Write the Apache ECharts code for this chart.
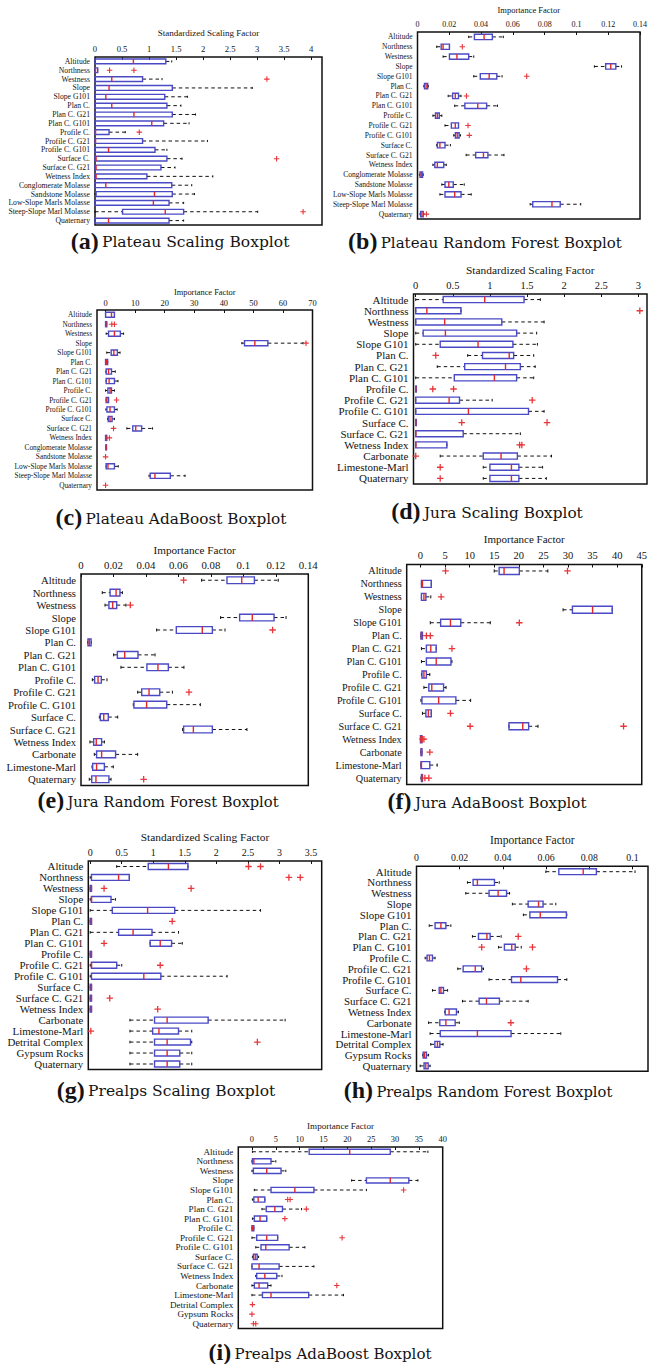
<!DOCTYPE html>
<html>
<head>
<meta charset="utf-8">
<script src="https://cdn.jsdelivr.net/npm/echarts@6/dist/echarts.min.js"></script>
<style>
  html, body { margin: 0; padding: 0; background: #fff; }
  #chart { width: 650px; height: 1364px; }
</style>
</head>
<body>
<div id="chart"></div>
<script>
// ---- factor names (one list per study area) ----
const plateauFactors = ['Altitude', 'Northness', 'Westness', 'Slope', 'Slope G101', 'Plan C.', 'Plan C. G21',
  'Plan C. G101', 'Profile C.', 'Profile C. G21', 'Profile C. G101', 'Surface C.', 'Surface C. G21',
  'Wetness Index', 'Conglomerate Molasse', 'Sandstone Molasse', 'Low-Slope Marls Molasse',
  'Steep-Slope Marl Molasse', 'Quaternary'];
const juraFactors = ['Altitude', 'Northness', 'Westness', 'Slope', 'Slope G101', 'Plan C.', 'Plan C. G21',
  'Plan C. G101', 'Profile C.', 'Profile C. G21', 'Profile C. G101', 'Surface C.', 'Surface C. G21',
  'Wetness Index', 'Carbonate', 'Limestone-Marl', 'Quaternary'];
const prealpsFactors = ['Altitude', 'Northness', 'Westness', 'Slope', 'Slope G101', 'Plan C.', 'Plan C. G21',
  'Plan C. G101', 'Profile C.', 'Profile C. G21', 'Profile C. G101', 'Surface C.', 'Surface C. G21',
  'Wetness Index', 'Carbonate', 'Limestone-Marl', 'Detrital Complex', 'Gypsum Rocks', 'Quaternary'];

// ---- box statistics per factor: [lower whisker, Q1, median, Q3, upper whisker] (null = no box) ----
const plateauScalingStats = [
  [0, 0, 0.71, 1.31, 1.42], [0, 0, 0.01, 0.05, 0.05], [0, 0, 0.31, 0.88, 1.24], [0, 0, 0.26, 1.43, 2.91],
  [0, 0, 0.20, 1.29, 1.71], [0, 0, 0.31, 1.33, 1.59], [0, 0, 0.72, 1.43, 1.86], [0, 0, 1.05, 1.27, 1.74],
  [0, 0, 0.01, 0.26, 0.56], [0, 0, 0.01, 0.88, 2.08], [0, 0, 0.25, 1.11, 1.33], [0, 0, 0.02, 1.33, 1.61],
  [0, 0, 0.02, 1.22, 1.48], [0, 0, 0.02, 0.96, 2.18], [0, 0, 0.20, 1.42, 1.79], [0, 0.02, 1.10, 1.43, 1.84],
  [0, 0, 1.08, 1.37, 1.64], [0, 0.51, 1.30, 1.64, 3.01], [0, 0, 0.25, 1.37, 1.64]];
const plateauScalingOutliers = [['Northness', 0.27], ['Northness', 0.72], ['Westness', 3.18], ['Profile C.', 0.82],
  ['Surface C.', 3.36], ['Steep-Slope Marl Molasse', 3.85]];

const plateauForestStats = [
  [0.0322, 0.0358, 0.0419, 0.0471, 0.0540], [0.0121, 0.0149, 0.0161, 0.0201, 0.0201],
  [0.0161, 0.0201, 0.0248, 0.0322, 0.0354], [0.1113, 0.1184, 0.1216, 0.1248, 0.1284],
  [0.0354, 0.0395, 0.0451, 0.0499, 0.0532], [0.0040, 0.0044, 0.0054, 0.0064, 0.0068],
  [0.0193, 0.0221, 0.0238, 0.0258, 0.0274], [0.0234, 0.0298, 0.0379, 0.0435, 0.0503],
  [0.0097, 0.0113, 0.0125, 0.0137, 0.0153], [0.0173, 0.0213, 0.0238, 0.0258, 0.0258],
  [0.0228, 0.0238, 0.0250, 0.0262, 0.0270], [0.0121, 0.0125, 0.0141, 0.0173, 0.0207],
  [0.0306, 0.0366, 0.0415, 0.0443, 0.0544], [0.0097, 0.0109, 0.0125, 0.0165, 0.0181],
  [0.0012, 0.0016, 0.0024, 0.0032, 0.0036], [0.0153, 0.0173, 0.0197, 0.0225, 0.0294],
  [0.0141, 0.0173, 0.0234, 0.0274, 0.0338], [0.0709, 0.0725, 0.0846, 0.0898, 0.1027],
  [0.0016, 0.0020, 0.0028, 0.0036, 0.0040]];
const plateauForestOutliers = [['Northness', 0.0282], ['Slope G101', 0.0687], ['Plan C. G21', 0.0308],
  ['Profile C. G21', 0.0318], ['Profile C. G101', 0.0326], ['Quaternary', 0.0056]];

const plateauAdaStats = [
  [0, 0, 2.0, 3.0, 3.0], [0, 0, 0.1, 0.4, 0.4], [0.2, 1.0, 3.0, 5.0, 6.1], [46.1, 47.0, 50.5, 54.9, 66.8],
  [0.4, 1.9, 2.8, 4.0, 4.9], [0, 0, 0.3, 0.7, 0.7], [0.1, 0.2, 1.0, 2.0, 3.3], [0.2, 0.2, 1.2, 3.0, 4.2],
  [0, 0.8, 1.5, 2.0, 3.0], [0.2, 0.2, 0.45, 1.0, 1.0], [0.1, 0.45, 1.5, 3.0, 3.9], [0.7, 0.9, 1.5, 2.2, 3.0],
  [7.2, 9.2, 10.2, 12.2, 15.9], [0, 0, 0.1, 0.4, 0.4], [0.1, 0.1, 0.15, 0.2, 0.2], null,
  [0.2, 0.2, 0.8, 3.0, 4.3], [14.7, 15.1, 16.7, 21.9, 26.9], null];
const plateauAdaOutliers = [['Northness', 2.1], ['Northness', 3.0], ['Slope', 67.8], ['Profile C. G21', 3.7],
  ['Surface C. G21', 2.7], ['Wetness Index', 1.3], ['Sandstone Molasse', 0], ['Quaternary', 0]];

const juraScalingStats = [
  [0, 0.37, 0.93, 1.46, 1.68], [0, 0, 0.15, 0.61, 0.61], [0, 0, 0.39, 1.16, 1.73], [0, 0.10, 0.40, 1.36, 1.63],
  [0, 0.33, 0.84, 1.31, 1.64], [0.70, 0.90, 1.26, 1.32, 1.59], [0.29, 0.66, 1.21, 1.41, 1.61],
  [0, 0.52, 1.06, 1.36, 1.59], [0, 0, 0, 0, 0], [0, 0, 0.45, 0.59, 1.03], [0, 0, 0.71, 1.52, 1.73],
  [0, 0, 0, 0, 0], [0, 0, 0, 0.64, 1.41], [0, 0, 0, 0.42, 0.42], [0.33, 0.91, 1.15, 1.37, 1.83],
  [0.91, 1.0, 1.29, 1.39, 1.71], [0.91, 1.0, 1.29, 1.39, 1.76]];
const juraScalingOutliers = [['Northness', 3.02], ['Plan C.', 0.27], ['Profile C.', 0.23], ['Profile C.', 0.51],
  ['Profile C. G21', 1.57], ['Surface C.', 0.62], ['Surface C.', 1.77], ['Wetness Index', 1.40],
  ['Wetness Index', 1.43], ['Carbonate', 0], ['Limestone-Marl', 0.33], ['Quaternary', 0.33]];

const juraForestStats = [
  [0.0743, 0.0899, 0.0990, 0.1068, 0.1215], [0.0131, 0.0179, 0.0216, 0.0240, 0.0255],
  [0.0148, 0.0172, 0.0195, 0.0220, 0.0277], [0.0860, 0.0977, 0.1055, 0.1189, 0.1263],
  [0.0466, 0.0587, 0.0747, 0.0809, 0.0887], [0.0041, 0.0043, 0.0051, 0.0062, 0.0064],
  [0.0201, 0.0224, 0.0269, 0.0351, 0.0456], [0.0246, 0.0406, 0.0474, 0.0538, 0.0634],
  [0.0070, 0.0084, 0.0105, 0.0125, 0.0160], [0.0349, 0.0374, 0.0419, 0.0485, 0.0563],
  [0.0322, 0.0326, 0.0404, 0.0528, 0.0735], [0.0113, 0.0119, 0.0140, 0.0168, 0.0226],
  [0.0626, 0.0632, 0.0692, 0.0809, 0.1022], [0.0055, 0.0078, 0.0094, 0.0127, 0.0144],
  [0.0082, 0.0096, 0.0127, 0.0213, 0.0349], [0.0068, 0.0072, 0.0096, 0.0144, 0.0199],
  [0.0051, 0.0066, 0.0092, 0.0172, 0.0185]];
const juraForestOutliers = [['Altitude', 0.0632], ['Westness', 0.0304], ['Slope G101', 0.1180],
  ['Profile C. G21', 0.0665], ['Quaternary', 0.0386]];

const juraAdaStats = [
  [15.0, 16.0, 17.0, 20.1, 25.9], [0.2, 0.2, 0.4, 2.2, 2.2], [0.2, 0.2, 0.7, 1.1, 2.1], [29.0, 30.9, 35.0, 39.0, 39.0],
  [2.0, 4.1, 6.1, 8.2, 14.2], [0.1, 0.1, 0.2, 0.4, 0.4], [0.2, 1.2, 2.1, 3.2, 3.2], [0.2, 1.2, 3.2, 6.2, 6.4],
  [0.2, 0.3, 0.7, 1.2, 1.9], [0.7, 1.7, 2.3, 4.7, 5.2], [0.1, 0.3, 3.7, 7.2, 10.2], [0.4, 1.1, 1.6, 2.2, 2.2],
  [18.0, 18.0, 20.8, 22.0, 23.9], [0, 0, 0.1, 0.3, 0.3], [0.1, 0.1, 0.2, 0.3, 0.3], [0.1, 0.1, 0.2, 1.9, 3.4],
  [0.1, 0.2, 0.3, 0.4, 0.4]];
const juraAdaOutliers = [['Altitude', 5.1], ['Altitude', 29.9], ['Westness', 4.2], ['Slope G101', 20.1],
  ['Plan C.', 1.2], ['Plan C.', 2.0], ['Plan C. G21', 6.4], ['Surface C.', 6.1], ['Surface C. G21', 10.1],
  ['Surface C. G21', 41.3], ['Wetness Index', 0.4], ['Wetness Index', 0.7], ['Carbonate', 1.9],
  ['Quaternary', 0.9], ['Quaternary', 1.7]];

const prealpsScalingStats = [
  [0.42, 0.92, 1.24, 1.55, 1.55], [0, 0.02, 0.45, 0.62, 0.62], [0, 0, 0.02, 0.02, 0.02], [0, 0.02, 0.02, 0.33, 0.40],
  [0, 0.35, 0.91, 1.34, 2.70], [0, 0, 0.02, 0.02, 0.02], [0, 0.45, 0.68, 0.98, 1.40], [0.95, 0.95, 1.11, 1.29, 1.46],
  [0, 0, 0.02, 0.02, 0.02], [0, 0.02, 0.02, 0.42, 0.50], [0, 0.02, 0.85, 1.12, 2.17], [0, 0, 0.02, 0.02, 0.02],
  [0, 0, 0.02, 0.02, 0.02], [0, 0, 0.02, 0.02, 0.02], [0.63, 1.02, 1.22, 1.87, 3.09], [0.63, 0.99, 1.09, 1.40, 1.61],
  [0.63, 1.02, 1.22, 1.59, 1.61], [0.63, 1.02, 1.22, 1.42, 1.61], [0.63, 1.02, 1.22, 1.42, 1.61]];
const prealpsScalingOutliers = [['Altitude', 2.51], ['Altitude', 2.70], ['Northness', 3.15], ['Northness', 3.33],
  ['Westness', 0.22], ['Westness', 1.60], ['Plan C.', 1.30], ['Plan C. G101', 0.22], ['Profile C. G21', 1.11],
  ['Surface C. G21', 0.31], ['Wetness Index', 1.07], ['Limestone-Marl', 0.01], ['Detrital Complex', 2.65]];

const prealpsForestStats = [
  [0.0599, 0.0659, 0.0772, 0.0833, 0.1012], [0.0236, 0.0262, 0.0282, 0.0361, 0.0383],
  [0.0228, 0.0336, 0.0378, 0.0417, 0.0431], [0.0444, 0.0517, 0.0565, 0.0586, 0.0645],
  [0.0495, 0.0525, 0.0573, 0.0694, 0.0696], [0.0059, 0.0086, 0.0113, 0.0136, 0.0159],
  [0.0259, 0.0287, 0.0326, 0.0341, 0.0392], [0.0380, 0.0407, 0.0441, 0.0457, 0.0485],
  [0.0040, 0.0049, 0.0060, 0.0074, 0.0086], [0.0191, 0.0216, 0.0272, 0.0302, 0.0310],
  [0.0336, 0.0440, 0.0483, 0.0653, 0.0696], [0.0074, 0.0105, 0.0113, 0.0125, 0.0144],
  [0.0213, 0.0290, 0.0324, 0.0384, 0.0517], [0.0131, 0.0133, 0.0151, 0.0185, 0.0194],
  [0.0056, 0.0108, 0.0136, 0.0179, 0.0198], [0.0063, 0.0110, 0.0282, 0.0438, 0.0668],
  [0.0066, 0.0085, 0.0097, 0.0108, 0.0123], [0.0029, 0.0031, 0.0037, 0.0046, 0.0056],
  [0.0017, 0.0035, 0.0043, 0.0054, 0.0063]];
const prealpsForestOutliers = [['Plan C. G21', 0.0471], ['Plan C. G101', 0.0302], ['Plan C. G101', 0.0537],
  ['Profile C. G21', 0.0509], ['Carbonate', 0.0437]];

const prealpsAdaStats = [
  [0.1, 12.0, 20.5, 29.0, 36.9], [0, 0.1, 0.4, 4.0, 5.0], [0, 0.3, 3.1, 6.1, 7.1], [20.9, 24.0, 29.0, 32.9, 34.8],
  [0.5, 4.0, 9.0, 13.0, 24.0], [0.1, 0.4, 1.3, 2.7, 2.7], [2.1, 3.0, 4.8, 6.4, 10.4], [0.1, 0.5, 1.7, 3.1, 3.1],
  [0, 0, 0.15, 0.4, 0.4], [0, 1.0, 3.1, 5.4, 5.4], [0.8, 1.9, 2.9, 7.8, 11.1], [0.1, 0.3, 0.7, 1.1, 1.4],
  [0, 0, 1.5, 5.7, 13.0], [0.8, 1.0, 2.7, 5.2, 6.3], [0, 0.5, 1.5, 3.3, 4.0], [0, 2.2, 4.0, 11.9, 19.2],
  null, null, null];
const prealpsAdaOutliers = [['Slope G101', 31.8], ['Plan C.', 7.5], ['Plan C.', 8.0], ['Plan C. G21', 11.4],
  ['Plan C. G101', 6.9], ['Profile C. G21', 18.9], ['Carbonate', 17.8], ['Detrital Complex', 0.1],
  ['Gypsum Rocks', 0], ['Quaternary', 0.3], ['Quaternary', 0.8]];

// ---- tick values on the importance / scaling axes ----
const ticksScaling4 = [0, 0.5, 1, 1.5, 2, 2.5, 3, 3.5, 4];
const ticksScaling3 = [0, 0.5, 1, 1.5, 2, 2.5, 3];
const ticksScaling35 = [0, 0.5, 1, 1.5, 2, 2.5, 3, 3.5];
const ticksForest014 = [0, 0.02, 0.04, 0.06, 0.08, 0.1, 0.12, 0.14];
const ticksForest010 = [0, 0.02, 0.04, 0.06, 0.08, 0.1];
const ticksAda70 = [0, 10, 20, 30, 40, 50, 60, 70];
const ticksAda45 = [0, 5, 10, 15, 20, 25, 30, 35, 40, 45];
const ticksAda40 = [0, 5, 10, 15, 20, 25, 30, 35, 40];

// ---- panel descriptions (data references + layout) ----
const SCALING = 'Standardized Scaling Factor';
const IMPORTANCE = 'Importance Factor';
const panels = [
  { tag: '(a)', title: 'Plateau Scaling Boxplot', cats: plateauFactors, stats: plateauScalingStats,
    outliers: plateauScalingOutliers, ticks: ticksScaling4, axisName: SCALING,
    box: [95, 57, 227, 168], min: 0, max: 4.2, catFont: 7.7, tickFont: 8.6, nameFont: 9, nameGap: 20,
    tickMargin: 4, titlePos: [180, 241], titleFont: 15.5, plus: 5.5 },
  { tag: '(b)', title: 'Plateau Random Forest Boxplot', cats: plateauFactors, stats: plateauForestStats,
    outliers: plateauForestOutliers, ticks: ticksForest014, axisName: IMPORTANCE,
    box: [417.5, 32, 231.5, 187], min: 0, max: 0.14, catFont: 7.5, tickFont: 8, nameFont: 8.5, nameGap: 18,
    tickMargin: 4, titlePos: [485, 241], titleFont: 15, plus: 5.5 },
  { tag: '(c)', title: 'Plateau AdaBoost Boxplot', cats: plateauFactors, stats: plateauAdaStats,
    outliers: plateauAdaOutliers, ticks: ticksAda70, axisName: IMPORTANCE,
    box: [97, 310, 215.5, 180], min: -2.9, max: 70, catFont: 7.3, tickFont: 8.4, nameFont: 8.4, nameGap: 14,
    tickMargin: 2.5, titlePos: [171, 517], titleFont: 15.3, plus: 5.5 },
  { tag: '(d)', title: 'Jura Scaling Boxplot', cats: juraFactors, stats: juraScalingStats,
    outliers: juraScalingOutliers, ticks: ticksScaling3, axisName: SCALING,
    box: [413.5, 294, 233.5, 190], min: -0.03, max: 3.117, catFont: 11, tickFont: 10.5, nameFont: 11.4, nameGap: 19,
    tickMargin: 3.5, titlePos: [487, 511], titleFont: 15.3, plus: 6.5 },
  { tag: '(e)', title: 'Jura Random Forest Boxplot', cats: juraFactors, stats: juraForestStats,
    outliers: juraForestOutliers, ticks: ticksForest014, axisName: IMPORTANCE,
    box: [81, 574, 227.3, 211.5], min: 0, max: 0.14, catFont: 10.7, tickFont: 10.8, nameFont: 11.2, nameGap: 19,
    tickMargin: 3.5, titlePos: [158, 800], titleFont: 14.7, plus: 6.5 },
  { tag: '(f)', title: 'Jura AdaBoost Boxplot', cats: juraFactors, stats: juraAdaStats,
    outliers: juraAdaOutliers, ticks: ticksAda45, axisName: IMPORTANCE,
    box: [406.7, 564.5, 238.3, 220], min: -2.8, max: 45, catFont: 10.2, tickFont: 10.5, nameFont: 11, nameGap: 20,
    tickMargin: 3.5, titlePos: [487, 801], titleFont: 15, plus: 6.5 },
  { tag: '(g)', title: 'Prealps Scaling Boxplot', cats: prealpsFactors, stats: prealpsScalingStats,
    outliers: prealpsScalingOutliers, ticks: ticksScaling35, axisName: SCALING,
    box: [88.3, 861, 233.4, 208.5], min: -0.03, max: 3.67, catFont: 10.9, tickFont: 10, nameFont: 11.4, nameGap: 19,
    tickMargin: 3.5, titlePos: [166, 1090], titleFont: 15.5, plus: 6.5 },
  { tag: '(h)', title: 'Prealps Random Forest Boxplot', cats: prealpsFactors, stats: prealpsForestStats,
    outliers: prealpsForestOutliers, ticks: ticksForest010, axisName: IMPORTANCE,
    box: [416.5, 866.3, 231.5, 205], min: 0, max: 0.1072, catFont: 10.9, tickFont: 9.8, nameFont: 11.5, nameGap: 20,
    tickMargin: 3.5, titlePos: [478, 1090], titleFont: 14.7, plus: 6.5 },
  { tag: '(i)', title: 'Prealps AdaBoost Boxplot', cats: prealpsFactors, stats: prealpsAdaStats,
    outliers: prealpsAdaOutliers, ticks: ticksAda40, axisName: IMPORTANCE,
    box: [238.3, 1147, 204.4, 181.5], min: -2.86, max: 40, catFont: 9.1, tickFont: 8.4, nameFont: 9.1, nameGap: 17,
    tickMargin: 4, titlePos: [320, 1352], titleFont: 15, plus: 5.5 }
];

const SERIF = '"Liberation Serif", "DejaVu Serif", serif';
const INK = '#141414';
const BOX_BLUE = '#4a4ac6';
const MEDIAN_RED = '#e5262a';
const OUTLIER_RED = '#e8363a';
const PLUS = 'path://M4,0H6V4H10V6H6V10H4V6H0V4H4Z';

// draws one horizontal box: dashed whiskers with caps, box outline, red median
function drawBox(params, api) {
  const cat = api.value(0);
  const xs = [1, 2, 3, 4, 5].map(k => api.coord([api.value(k), cat])[0]);
  const yc = api.coord([api.value(3), cat])[1];
  const band = api.size([0, 1])[1];
  const hb = band * 0.27;
  const hc = band * 0.12;
  const [xl, x1, xm, x3, xh] = xs;
  const dash = { stroke: '#111', lineWidth: 1, lineDash: [3.5, 3] };
  const solid = { stroke: '#111', lineWidth: 1 };
  return {
    type: 'group',
    children: [
      { type: 'line', shape: { x1: xl, y1: yc, x2: x1, y2: yc }, style: dash },
      { type: 'line', shape: { x1: x3, y1: yc, x2: xh, y2: yc }, style: dash },
      { type: 'line', shape: { x1: xl, y1: yc - hc, x2: xl, y2: yc + hc }, style: solid },
      { type: 'line', shape: { x1: xh, y1: yc - hc, x2: xh, y2: yc + hc }, style: solid },
      { type: 'rect', shape: { x: x1, y: yc - hb, width: Math.max(x3 - x1, 0.6), height: 2 * hb },
        style: { fill: 'none', stroke: BOX_BLUE, lineWidth: 1.4 } },
      { type: 'line', shape: { x1: xm, y1: yc - hb, x2: xm, y2: yc + hb },
        style: { stroke: MEDIAN_RED, lineWidth: 1.4 } }
    ]
  };
}

const grid = [], xAxis = [], yAxis = [], series = [], graphic = [];
panels.forEach((p, i) => {
  grid.push({ left: p.box[0], top: p.box[1], width: p.box[2], height: p.box[3], show: true,
    borderColor: '#111', borderWidth: 1.5, backgroundColor: 'transparent' });
  xAxis.push({
    type: 'value', gridIndex: i, position: 'top', min: p.min, max: p.max,
    name: p.axisName, nameLocation: 'middle', nameGap: p.nameGap,
    nameTextStyle: { fontFamily: SERIF, fontSize: p.nameFont, color: INK },
    axisLine: { show: false }, splitLine: { show: false },
    axisTick: { show: true, inside: true, length: 3, customValues: p.ticks, lineStyle: { color: '#111', width: 1 } },
    axisLabel: { customValues: p.ticks, fontFamily: SERIF, fontSize: p.tickFont, color: INK, margin: p.tickMargin }
  });
  yAxis.push({
    type: 'category', gridIndex: i, data: p.cats, inverse: true,
    axisLine: { show: false }, axisTick: { show: false }, splitLine: { show: false },
    axisLabel: { interval: 0, fontFamily: SERIF, fontSize: p.catFont, color: INK, margin: 5 }
  });
  series.push({
    type: 'custom', xAxisIndex: i, yAxisIndex: i, renderItem: drawBox, silent: true, z: 2,
    encode: { x: [1, 2, 3, 4, 5], y: 0 },
    data: p.stats.map((row, k) => (row ? [k].concat(row) : null)).filter(Boolean)
  });
  series.push({
    type: 'scatter', xAxisIndex: i, yAxisIndex: i, silent: true, z: 3,
    symbol: PLUS, symbolSize: p.plus, itemStyle: { color: OUTLIER_RED, opacity: 1 },
    data: p.outliers.map(([name, v]) => [v, p.cats.indexOf(name)])
  });
  graphic.push({
    type: 'text', x: p.titlePos[0], y: p.titlePos[1], silent: true,
    style: {
      text: '{b|' + p.tag + '} {t|' + p.title + '}',
      align: 'center', verticalAlign: 'middle', fill: INK,
      rich: {
        b: { fontFamily: '"Liberation Serif", serif', fontWeight: 'bold', fontSize: 24, verticalAlign: 'bottom', fill: INK },
        t: { fontFamily: '"DejaVu Serif", serif', fontSize: p.titleFont, verticalAlign: 'bottom', padding: [0, 0, 3, 0], fill: INK }
      }
    }
  });
});

const chart = echarts.init(document.getElementById('chart'), null, { renderer: 'svg' });
chart.setOption({ animation: false, backgroundColor: '#fff', grid, xAxis, yAxis, series, graphic });
</script>
</body>
</html>
